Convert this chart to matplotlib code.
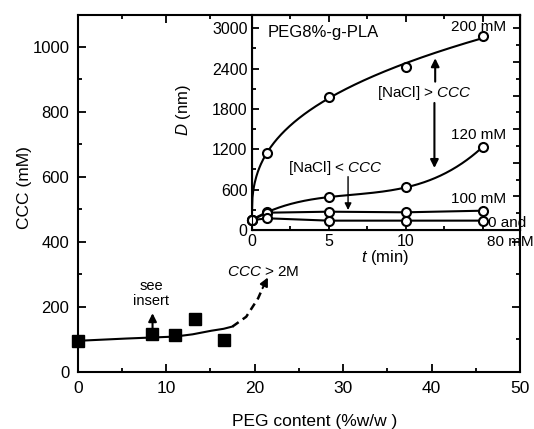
import numpy as np
import matplotlib.pyplot as plt

plt.rcParams['font.family'] = ['Liberation Sans', 'DejaVu Sans']
plt.rcParams['mathtext.fontset'] = 'custom'
plt.rcParams['mathtext.rm'] = 'Liberation Sans'
plt.rcParams['mathtext.it'] = 'Liberation Sans:italic'

# main plot: CCC vs PEG content
peg = [0, 8.4, 11.0, 13.3, 16.5]
ccc = [95, 115, 112, 162, 98]

# guide line (solid part and dashed extension)
guide_x = [0, 5.5, 11.0, 13.0, 15.1, 16.5, 17.5]
guide_y = [95, 102, 108, 115, 126, 132, 139]
dash_x = [17.5, 19.05, 20.4, 20.9]
dash_y = [139, 169, 226, 257]

# inset: D vs t for several NaCl concentrations
t = [0, 1, 5, 10, 15]
d_200 = [145, 1150, 1983, 2429, 2886]
d_120 = [145, 272, 486, 635, 1239]
d_100 = [145, 257, 272, 263, 287]
d_0_80 = [145, 174, 139, 139, 139]

fig = plt.figure(figsize=(5.34, 4.29), dpi=100)
ax = fig.add_axes([0.1455, 0.1336, 0.8283, 0.8303])

ax.plot(guide_x, guide_y, color='black', lw=1.5)
ax.plot(dash_x, dash_y, color='black', lw=1.8, ls=(0, (3, 2)))
ax.annotate('', xy=(21.5, 290), xytext=(20.9, 257),
            arrowprops=dict(arrowstyle='-|>', color='black', lw=1.5,
                            mutation_scale=12, shrinkA=0, shrinkB=0))
ax.plot(peg, ccc, 's', color='black', markersize=8.5, clip_on=False, zorder=5)

ax.annotate('', xy=(8.46, 180), xytext=(8.46, 128),
            arrowprops=dict(arrowstyle='-|>', color='black', lw=1.5,
                            mutation_scale=12, shrinkA=0, shrinkB=0))
ax.text(8.34, 240, 'see\ninsert', ha='center', va='center', fontsize=10.5,
        linespacing=1.05)
ax.text(16.9, 308, r'$\mathit{CCC}$ > 2M', ha='left', va='center', fontsize=11)

ax.set_xlim(0, 50)
ax.set_ylim(0, 1096)
ax.set_xticks([0, 10, 20, 30, 40, 50])
ax.set_xticks(np.arange(5, 50, 10), minor=True)
ax.set_yticks([0, 200, 400, 600, 800, 1000])
ax.set_yticks(np.arange(100, 1100, 200), minor=True)
ax.tick_params(axis='both', which='both', direction='in', top=True, right=True,
               width=1.3)
ax.tick_params(axis='both', which='major', length=5.5)
ax.tick_params(axis='both', which='minor', length=3)
ax.tick_params(axis='x', labelsize=12.5, pad=7)
ax.tick_params(axis='y', labelsize=12, pad=6)
for s in ax.spines.values():
    s.set_linewidth(1.5)

ax.set_xlabel('PEG content (%w/w )', fontsize=12.5)
ax.xaxis.set_label_coords(0.5365, -0.12)
ax.set_ylabel('CCC (mM)', fontsize=12.5)
ax.yaxis.set_label_coords(-0.103, 0.516)

# inset
ax_in = fig.add_axes([0.4713, 0.4639, 0.5025, 0.5])

# power-law fit for 200 mM and cubic fit for 120 mM
t_arr = np.array(t, dtype=float)
tt = np.linspace(0, 15, 300)
d0 = d_200[0]
k, c = np.polyfit(np.log(t_arr[1:]), np.log(np.array(d_200[1:]) - d0), 1)
fit_200 = d0 + np.exp(c) * tt ** k
p120 = np.polyfit(t_arr, d_120, 3)
fit_120 = np.polyval(p120, tt)

ax_in.plot(tt, fit_200, color='black', lw=1.5)
ax_in.plot(tt, fit_120, color='black', lw=1.5)
ax_in.plot(t, d_100, color='black', lw=1.5)
ax_in.plot(t, d_0_80, color='black', lw=1.5)
for d in (d_200, d_120, d_100, d_0_80):
    ax_in.plot(t, d, 'o', mfc='white', mec='black', mew=1.5, markersize=6.5,
               zorder=5, clip_on=False)

ax_in.text(1.06, 2930, 'PEG8%-g-PLA', ha='left', va='center', fontsize=12)
ax_in.text(12.9, 3020, '200 mM', ha='left', va='center', fontsize=11)
ax_in.text(12.9, 1413, '120 mM', ha='left', va='center', fontsize=11)
ax_in.text(12.9, 461, '100 mM', ha='left', va='center', fontsize=11)
ax_in.text(15.35, 109, '0 and', ha='left', va='center', fontsize=11,
           clip_on=False)
ax_in.text(15.28, -174, '80 mM', ha='left', va='center', fontsize=11,
           clip_on=False)
ax_in.text(8.14, 2042, r'[NaCl] > $\mathit{CCC}$', ha='left', va='center',
           fontsize=11)
ax_in.text(2.36, 918, r'[NaCl] < $\mathit{CCC}$', ha='left', va='center',
           fontsize=11)

arrow = dict(arrowstyle='-|>', color='black', lw=1.5, mutation_scale=12,
             shrinkA=0, shrinkB=0)
ax_in.annotate('', xy=(11.9, 2554), xytext=(11.9, 2206), arrowprops=arrow)
ax_in.annotate('', xy=(11.85, 922), xytext=(11.85, 1889), arrowprops=arrow)
ax_in.annotate('', xy=(6.25, 297), xytext=(6.25, 793),
               arrowprops=dict(arrowstyle='-|>', color='black', lw=1.0,
                               mutation_scale=10, shrinkA=0, shrinkB=0))

ax_in.set_xlim(0, 17.4)
ax_in.set_ylim(0, 3190)
ax_in.set_xticks([0, 5, 10, 15])
ax_in.set_xticklabels(['0', '5', '10', ''])
ax_in.set_xticks([2.5, 7.5, 12.5], minor=True)
ax_in.set_yticks([0, 600, 1200, 1800, 2400, 3000])
ax_in.set_yticks(np.arange(300, 3190, 600), minor=True)
ax_in.tick_params(axis='both', which='both', direction='in', top=True,
                  width=1.3, labelsize=11.5)
ax_in.tick_params(axis='both', which='major', length=5)
ax_in.tick_params(axis='both', which='minor', length=3)
ax_in.tick_params(axis='x', pad=3)
ax_in.tick_params(axis='y', pad=3)
for s in ax_in.spines.values():
    s.set_linewidth(1.5)

# right-hand ticks of the inset use a 500 nm spacing
ax_r = ax_in.twinx()
ax_r.set_ylim(0, 3190)
ax_r.set_yticks(np.arange(500, 3190, 500))
ax_r.set_yticks(np.arange(250, 3190, 500), minor=True)
ax_r.tick_params(axis='y', which='both', direction='in', labelright=False,
                 width=1.3)
ax_r.tick_params(axis='y', which='major', length=5)
ax_r.tick_params(axis='y', which='minor', length=3)

ax_in.set_xlabel(r'$\mathit{t}$ (min)', fontsize=12)
ax_in.xaxis.set_label_coords(0.497, -0.085)
ax_in.set_ylabel(r'$\mathit{D}$ (nm)', fontsize=12)
ax_in.yaxis.set_label_coords(-0.219, 0.559)

fig.savefig('out.png', dpi=100)
